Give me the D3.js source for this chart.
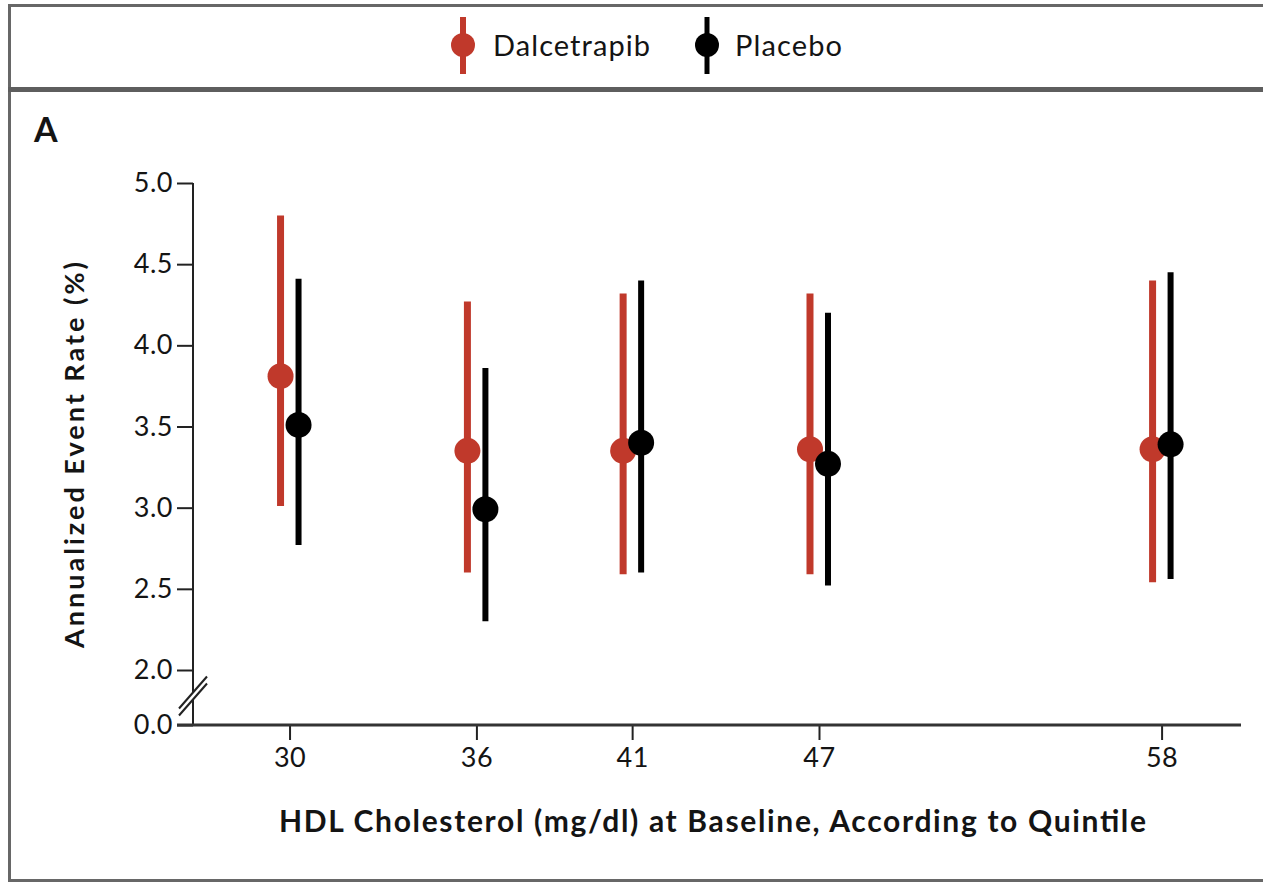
<!DOCTYPE html>
<html>
<head>
<meta charset="utf-8">
<script src="https://cdn.jsdelivr.net/npm/d3@7"></script>
<style>
  html, body { margin: 0; padding: 0; background: #fff; }
  svg { display: block; }
  text { font-family: Lato, "Open Sans", sans-serif; fill: #141414; }
</style>
</head>
<body>
<svg id="chart" width="1263" height="882"></svg>
<script>
// HDL quintile medians (mg/dl)
const quintiles = [30, 36, 41, 47, 58];

// Annualized event rate (%) with 95% CI, per quintile
const dalRate  = [3.81, 3.35, 3.35, 3.36, 3.36];
const dalLow   = [3.01, 2.60, 2.59, 2.59, 2.54];
const dalHigh  = [4.80, 4.27, 4.32, 4.32, 4.40];

const plaRate  = [3.51, 2.99, 3.40, 3.27, 3.39];
const plaLow   = [2.77, 2.30, 2.60, 2.52, 2.56];
const plaHigh  = [4.41, 3.86, 4.40, 4.20, 4.45];

const yTicks = [0, 2.0, 2.5, 3.0, 3.5, 4.0, 4.5, 5.0];
const seriesNames = ["Dalcetrapib", "Placebo"];
const seriesColors = ["#c0392b", "#000000"];

const svg = d3.select("#chart");

// panel frame
const frame = "#676767";
svg.append("rect").attr("x", 8).attr("y", 4).attr("width", 1263).attr("height", 3).attr("fill", frame);
svg.append("rect").attr("x", 8).attr("y", 4).attr("width", 3).attr("height", 878).attr("fill", frame);
svg.append("rect").attr("x", 8).attr("y", 879).attr("width", 1263).attr("height", 3).attr("fill", frame);
svg.append("rect").attr("x", 8).attr("y", 87).attr("width", 1263).attr("height", 5).attr("fill", "#5e5e5e");

// scales
const x = d3.scaleLinear().domain([26.9, 60.55]).range([193, 1241]);
const y = d3.scaleLinear().domain([0, 2, 5]).range([725, 670, 183]);

// y axis (broken between 0 and 2)
const yAxis = d3.axisLeft(y).tickValues(yTicks).tickFormat(d3.format(".1f")).tickSize(16).tickPadding(4);
const gy = svg.append("g").attr("transform", "translate(193,0)").call(yAxis);
gy.select(".domain").remove();
gy.append("line").attr("x1", 0).attr("x2", 0).attr("y1", y(5)).attr("y2", y(0))
  .attr("stroke", "#222").attr("stroke-width", 2);
gy.selectAll(".tick line").attr("stroke", "#222").attr("stroke-width", 2);
gy.selectAll(".tick text").style("font-size", "27px").style("letter-spacing", "0.5px").attr("fill", "#141414");

// axis break marks
const brk = svg.append("g").attr("transform", `translate(193,${(y(0) + y(2)) / 2 - 1})`);
brk.append("polygon").attr("points", "-14,12 14,-20 14,-13 -14,19").attr("fill", "#fff");
[[-14, 12, 14, -20], [-14, 19, 14, -13]].forEach(p => {
  brk.append("line").attr("x1", p[0]).attr("y1", p[1]).attr("x2", p[2]).attr("y2", p[3])
    .attr("stroke", "#222").attr("stroke-width", 2);
});

// x axis
const xAxis = d3.axisBottom(x).tickValues(quintiles).tickSize(15).tickPadding(8);
const gx = svg.append("g").attr("transform", `translate(0,${y(0)})`).call(xAxis);
gx.select(".domain").remove();
gx.append("line").attr("x1", 177).attr("x2", 1241).attr("y1", 0).attr("y2", 0)
  .attr("stroke", "#333").attr("stroke-width", 3);
gx.selectAll(".tick line").attr("stroke", "#222").attr("stroke-width", 2);
gx.selectAll(".tick text").style("font-size", "27px").style("letter-spacing", "0.5px").attr("fill", "#141414");

// data series
const series = [
  { name: seriesNames[0], color: seriesColors[0], dx: -9, w: 7, rate: dalRate, lo: dalLow, hi: dalHigh },
  { name: seriesNames[1], color: seriesColors[1], dx: 9, w: 6, rate: plaRate, lo: plaLow, hi: plaHigh }
];

series.forEach(s => {
  const g = svg.append("g");
  const rows = quintiles.map((q, i) => ({ q, r: s.rate[i], lo: s.lo[i], hi: s.hi[i] }));
  g.selectAll("line").data(rows).join("line")
    .attr("x1", d => x(d.q) + s.dx).attr("x2", d => x(d.q) + s.dx)
    .attr("y1", d => y(d.hi)).attr("y2", d => y(d.lo))
    .attr("stroke", s.color).attr("stroke-width", s.w);
  g.selectAll("circle").data(rows).join("circle")
    .attr("cx", d => x(d.q) + s.dx).attr("cy", d => y(d.r)).attr("r", 13)
    .attr("fill", s.color);
});

// legend
const legendX = [463, 707];
const legendW = [157, 107];
series.forEach((s, i) => {
  const lg = svg.append("g").attr("transform", `translate(${legendX[i]},45)`);
  lg.append("line").attr("x1", 0).attr("x2", 0).attr("y1", -28).attr("y2", 29)
    .attr("stroke", s.color).attr("stroke-width", i === 0 ? 6 : 5);
  lg.append("circle").attr("r", 12).attr("fill", s.color);
  lg.append("text").attr("x", 30 - (i === 0 ? 0 : 2)).attr("y", 11)
    .style("font-size", "29px")
    .attr("textLength", legendW[i]).attr("lengthAdjust", "spacing")
    .text(s.name);
});

// panel label
svg.append("text").attr("x", 34).attr("y", 142).style("font-size", "34px").style("font-weight", 700).text("A");

// axis titles
svg.append("text").attr("x", 279).attr("y", 832)
  .style("font-size", "30px").style("font-weight", 700)
  .attr("textLength", 867).attr("lengthAdjust", "spacing")
  .text("HDL Cholesterol (mg/dl) at Baseline, According to Quintile");
svg.append("text").attr("transform", "translate(84,648) rotate(-90)")
  .style("font-size", "27px").style("font-weight", 700)
  .attr("textLength", 386).attr("lengthAdjust", "spacing")
  .text("Annualized Event Rate (%)");
</script>
</body>
</html>
